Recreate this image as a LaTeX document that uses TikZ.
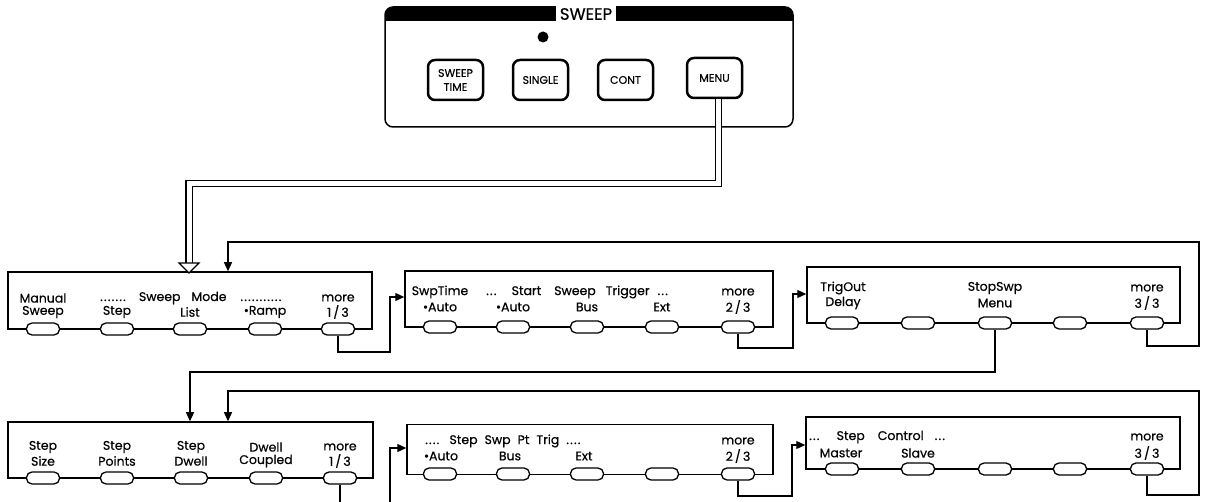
\documentclass[tikz,border=0pt]{standalone}
\usepackage{fontspec}
\setmainfont{Poppins}[FakeBold=0.5]
\usetikzlibrary{arrows.meta}
\newcommand\dts[1]{\foreach \n in {1,...,#1}{.\hspace{1.2pt}}}
\begin{document}
\begin{tikzpicture}[x=1pt,y=-1pt,
  lab/.style={font=\fontsize{12.5}{14}\selectfont, inner sep=0pt},
  menubox/.style={draw, line width=1.5pt, inner sep=0pt},
  softkey/.style={draw, fill=white, line width=1.3pt, rounded corners=5.5pt, minimum width=33pt, minimum height=12pt, inner sep=0pt},
  hardkey/.style={draw, line width=2.5pt, rounded corners=7pt, minimum width=55pt, minimum height=40pt, inner sep=0pt, align=center, font=\fontsize{11}{14}\selectfont},
  conn/.style={line width=1.2pt},
  arr/.style={conn, -{Triangle[length=9pt,width=8pt]}},
]
\useasboundingbox (0,0) rectangle (1205,502);
\clip (0,0) rectangle (1205,502);

% ---------- front panel ----------
\node[draw, rounded corners=8pt, line width=1.5pt, minimum width=408pt, minimum height=120pt, inner sep=0pt] (panel) at (589,67) {};
\begin{scope}
  \clip[rounded corners=8pt] (385,7) rectangle (793,127);
  \fill (385,7) rectangle (793,21);
\end{scope}
\node[fill=white, inner xsep=4pt, inner ysep=0pt, minimum height=16pt, font=\fontsize{16.5}{17}\selectfont] (title) at (586,14) {SWEEP};
\node[circle, fill, minimum size=11pt, inner sep=0pt] (led) at (543,37) {};
\node[hardkey] (swt) at (455.5,80) {SWEEP\\TIME};
\node[hardkey] (single) at (540.5,80) {SINGLE};
\node[hardkey] (cont) at (625.5,80) {CONT};
\node[hardkey] (menu) at (714.5,78) {MENU};

% ---------- menu boxes ----------
\node[menubox, minimum width=364pt, minimum height=57pt] (b1) at (190,300.5) {};
\node[menubox, minimum width=368pt, minimum height=56pt] (b2) at (589,299) {};
\node[menubox, minimum width=373pt, minimum height=56pt] (b3) at (993.5,295) {};
\node[menubox, minimum width=365pt, minimum height=56pt] (b4) at (190.5,450) {};
\node[menubox, minimum width=366pt, minimum height=50pt] (b5) at (590,449.5) {};
\node[menubox, minimum width=374pt, minimum height=52pt] (b6) at (993,443) {};

\foreach \x [count=\i] in {43,117,190,265,338} \node[softkey] (k1\i) at (\x,329) {};
\foreach \x [count=\i] in {440,513,587,662,738} \node[softkey] (k2\i) at (\x,327) {};
\foreach \x [count=\i] in {842,918,995,1070,1147} \node[softkey] (k3\i) at (\x,323) {};
\foreach \x [count=\i] in {43,117,191,266,340} \node[softkey] (k4\i) at (\x,478) {};
\foreach \x [count=\i] in {440,513,587,662,738} \node[softkey] (k5\i) at (\x,474) {};
\foreach \x [count=\i] in {842,918,995,1070,1147} \node[softkey] (k6\i) at (\x,469) {};

% ---------- labels row 1 ----------
\node[lab] (t1a) at (43,298) {Manual};
\node[lab] (t1b) at (43,312) {Sweep};
\node[lab, anchor=west] (t1c) at (100,298) {\dts{7}\hspace{12pt}Sweep\hspace{11pt}Mode\hspace{14pt}\dts{11}};
\node[lab] (t1d) at (117,312) {Step};
\node[lab] (t1e) at (190,312) {List};
\node[lab] (t1f) at (265,312) {•Ramp};
\node[lab] (t1g) at (338,298) {more};
\node[lab] (t1h) at (338,312) {1\,/\,3};

\node[lab] (t2a) at (440,292) {SwpTime};
\node[lab, anchor=west] (t2b) at (486,292) {\dts{3}\hspace{14pt}Start\hspace{13pt}Sweep\hspace{10pt}Trigger\hspace{8pt}\dts{3}};
\node[lab] (t2c) at (440,307) {•Auto};
\node[lab] (t2d) at (513,307) {•Auto};
\node[lab] (t2e) at (587,307) {Bus};
\node[lab] (t2f) at (662,307) {Ext};
\node[lab] (t2g) at (738,292) {more};
\node[lab] (t2h) at (738,307) {2\,/\,3};

\node[lab] (t3a) at (843,288) {TrigOut};
\node[lab] (t3b) at (843,303) {Delay};
\node[lab] (t3c) at (995,288) {StopSwp};
\node[lab] (t3d) at (995,303) {Menu};
\node[lab] (t3e) at (1147,288) {more};
\node[lab] (t3f) at (1147,303) {3\,/\,3};

% ---------- labels row 2 ----------
\node[lab] (t4a) at (43,447) {Step};
\node[lab] (t4b) at (43,461) {Size};
\node[lab] (t4c) at (117,447) {Step};
\node[lab] (t4d) at (117,461) {Points};
\node[lab] (t4e) at (191,447) {Step};
\node[lab] (t4f) at (191,461) {Dwell};
\node[lab] (t4g) at (266,447) {Dwell};
\node[lab] (t4h) at (266,461) {Coupled};
\node[lab] (t4i) at (340,447) {more};
\node[lab] (t4j) at (340,461) {1\,/\,3};

\node[lab, anchor=west] (t5a) at (425,441) {\dts{4}\hspace{9pt}Step\hspace{7pt}Swp\hspace{7pt}Pt\hspace{7pt}Trig\hspace{7pt}\dts{4}};
\node[lab] (t5b) at (441,456) {•Auto};
\node[lab] (t5c) at (510,456) {Bus};
\node[lab] (t5d) at (584,456) {Ext};
\node[lab] (t5e) at (738,441) {more};
\node[lab] (t5f) at (738,456) {2\,/\,3};

\node[lab, anchor=west] (t6a) at (809,437) {\dts{3}\hspace{16pt}Step\hspace{13pt}Control\hspace{11pt}\dts{3}};
\node[lab] (t6b) at (841,453) {Master};
\node[lab] (t6c) at (918,453) {Slave};
\node[lab] (t6d) at (1147,437) {more};
\node[lab] (t6e) at (1147,453) {3\,/\,3};

% ---------- connectors ----------
\draw[double, double distance=5pt, line width=1.2pt] ([xshift=4pt]menu.south) |- (189,183.5) -- (189,263);
\draw[line width=1.2pt, fill=white] (179,263) -- (199,263) -- (189,273) -- cycle;

\draw[arr] (k15.south) |- (390,352) |- (b2.west |- 0,297);
\draw[arr] (k25.south) |- (793,348) |- (b3.west |- 0,294);
\draw[arr] (k35.south) |- (1199,346) |- (228,242) -- (228,0 |- b1.north);

\draw[arr] (k33.south) |- (190,372) -- (190,0 |- b4.north);
\draw[arr] (k65.south) |- (1199,495) |- (228,391) -- (228,0 |- b4.north);
\draw[arr] (k45.south) |- (390,515) |- (b5.west |- 0,448);
\draw[arr] (k55.south) |- (792,496) |- (b6.west |- 0,445);
\end{tikzpicture}
\end{document}
